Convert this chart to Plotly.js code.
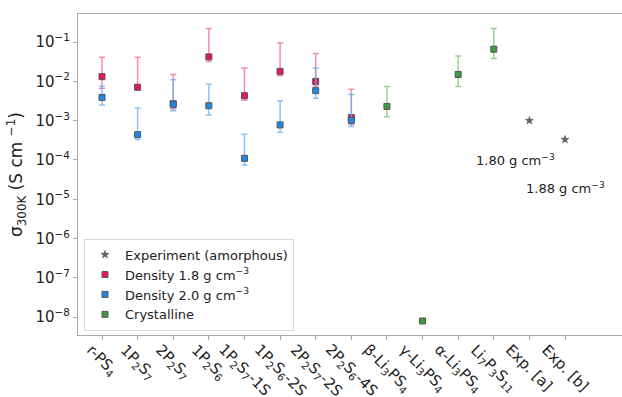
<!DOCTYPE html>
<html>
<head>
<meta charset="utf-8">
<script src="https://cdn.plot.ly/plotly-3.0.1.min.js"></script>
<style>html,body{margin:0;padding:0;background:#fff;}#chart{width:622px;height:397px;}</style>
</head>
<body>
<div id="chart"></div>
<script>
// ---- data ----
const categories = ["r-PS<sub>4</sub>", "1P<sub>2</sub>S<sub>7</sub>", "2P<sub>2</sub>S<sub>7</sub>", "1P<sub>2</sub>S<sub>6</sub>",
  "1P<sub>2</sub>S<sub>7</sub>-1S", "1P<sub>2</sub>S<sub>6</sub>-2S", "2P<sub>2</sub>S<sub>7</sub>-2S", "2P<sub>2</sub>S<sub>6</sub>-4S",
  "β-Li<sub>3</sub>PS<sub>4</sub>", "γ-Li<sub>3</sub>PS<sub>4</sub>", "α-Li<sub>3</sub>PS<sub>4</sub>", "Li<sub>7</sub>P<sub>3</sub>S<sub>11</sub>",
  "Exp. [a]", "Exp. [b]"];

const amorphousIdx = [0, 1, 2, 3, 4, 5, 6, 7];
const d18Values = [0.0132, 0.0071, 0.0027, 0.042, 0.0043, 0.018, 0.010, 0.0012];
const d18Upper  = [0.041, 0.041, 0.015, 0.22, 0.022, 0.096, 0.051, 0.0063];
const d18Lower  = [0.0066, 0.0059, 0.0020, 0.032, 0.0033, 0.0138, 0.0076, 0.0008];

const d20Values = [0.0039, 0.00044, 0.0026, 0.0024, 0.00011, 0.00078, 0.0058, 0.00102];
const d20Upper  = [0.0075, 0.0021, 0.011, 0.0084, 0.00045, 0.0032, 0.022, 0.0046];
const d20Lower  = [0.0025, 0.00033, 0.0018, 0.0014, 0.000074, 0.00051, 0.0037, 0.00071];

const crystIdx    = [8, 9, 10, 11];
const crystValues = [0.0023, 8e-9, 0.015, 0.066];
const crystUpper  = [0.0074, 8e-9, 0.044, 0.22];
const crystLower  = [0.00126, 8e-9, 0.0074, 0.038];

const expIdx    = [12, 13];
const expValues = [0.001, 0.00033];
const expLabels = ["1.80 g cm<sup>−3</sup>", "1.88 g cm<sup>−3</sup>"];
const expLabelX = [11.6, 13.0];
const expLabelY = [-4.01, -4.72];

const yTickVals = [1e-8, 1e-7, 1e-6, 1e-5, 1e-4, 1e-3, 1e-2, 1e-1];
const yTickText = ["10<sup>−8</sup>", "10<sup>−7</sup>", "10<sup>−6</sup>", "10<sup>−5</sup>",
  "10<sup>−4</sup>", "10<sup>−3</sup>", "10<sup>−2</sup>", "10<sup>−1</sup>"];

// ---- build traces ----
const FONT = "DejaVu Sans, sans-serif";
function errs(vals, up, lo) {
  return {
    plus: vals.map((v, i) => up[i] - v),
    minus: vals.map((v, i) => v - lo[i])
  };
}
function xs(idx) { return idx.map(i => categories[i]); }

const e18 = errs(d18Values, d18Upper, d18Lower);
const e20 = errs(d20Values, d20Upper, d20Lower);
const eCr = errs(crystValues, crystUpper, crystLower);

const traces = [
  {
    type: "scatter", mode: "markers", name: "Density 1.8 g cm<sup>−3</sup>", legendrank: 2,
    x: xs(amorphousIdx), y: d18Values,
    marker: {symbol: "square", size: 6, color: "#e8175d", line: {color: "#555", width: 1}},
    error_y: {type: "data", symmetric: false, array: e18.plus, arrayminus: e18.minus,
      color: "#f58fb0", thickness: 1.5, width: 3}
  },
  {
    type: "scatter", mode: "markers", name: "Density 2.0 g cm<sup>−3</sup>", legendrank: 3,
    x: xs(amorphousIdx), y: d20Values,
    marker: {symbol: "square", size: 6, color: "#1e88e5", line: {color: "#555", width: 1}},
    error_y: {type: "data", symmetric: false, array: e20.plus, arrayminus: e20.minus,
      color: "rgba(100,175,240,0.75)", thickness: 1.5, width: 3}
  },
  {
    type: "scatter", mode: "markers", name: "Crystalline", legendrank: 4,
    x: xs(crystIdx), y: crystValues,
    marker: {symbol: "square", size: 6, color: "#3d9a3d", line: {color: "#555", width: 1}},
    error_y: {type: "data", symmetric: false, array: eCr.plus, arrayminus: eCr.minus,
      color: "#98d498", thickness: 1.5, width: 3}
  },
  {
    type: "scatter", mode: "markers", name: "Experiment (amorphous)", legendrank: 1,
    x: xs(expIdx), y: expValues,
    marker: {symbol: "star", size: 6, color: "#666", line: {color: "#444", width: 0.5}}
  }
];

const annotations = [];
categories.forEach((c, i) => {
  annotations.push({
    x: i, xref: "x", y: 0, yref: "paper", yshift: -3,
    text: c, showarrow: false, textangle: 45,
    xanchor: "center", yanchor: "top",
    font: {family: FONT, size: 15, color: "#222"}
  });
});
expLabels.forEach((t, i) => {
  annotations.push({
    x: expLabelX[i], xref: "x", y: expLabelY[i], yref: "y",
    text: t, showarrow: false, xanchor: "center", yanchor: "middle",
    font: {family: FONT, size: 13, color: "#222"}
  });
});

const layout = {
  width: 622, height: 397,
  margin: {l: 78, r: 0, t: 14, b: 62, pad: 0},
  paper_bgcolor: "#fff", plot_bgcolor: "#fff",
  font: {family: FONT, color: "#222"},
  showlegend: true,
  legend: {
    x: 0.011, y: 0.30, xanchor: "left", yanchor: "top",
    bgcolor: "rgba(255,255,255,0.85)", bordercolor: "#d8d8d8", borderwidth: 1,
    font: {family: FONT, size: 13, color: "#222"},
    tracegroupgap: 0
  },
  xaxis: {
    type: "category", categoryorder: "array", categoryarray: categories,
    range: [-0.674, 14.6],
    showgrid: false, zeroline: false,
    showline: true, linecolor: "#aaaaaa", linewidth: 1, mirror: true,
    ticks: "outside", ticklen: 4, tickcolor: "#aaaaaa",
    showticklabels: false
  },
  yaxis: {
    type: "log", range: [-8.454, -0.286],
    tickmode: "array", tickvals: yTickVals, ticktext: yTickText,
    showgrid: false, zeroline: false,
    showline: true, linecolor: "#aaaaaa", linewidth: 1, mirror: false,
    ticks: "outside", ticklen: 4, tickcolor: "#aaaaaa",
    tickfont: {family: FONT, size: 15, color: "#222"},
    title: {text: "σ<sub>300K</sub> (S cm <sup>−1</sup>)", font: {family: FONT, size: 17, color: "#222"}, standoff: 8}
  },
  annotations: annotations
};

Plotly.newPlot("chart", traces, layout, {displayModeBar: false, staticPlot: true});
</script>
</body>
</html>
